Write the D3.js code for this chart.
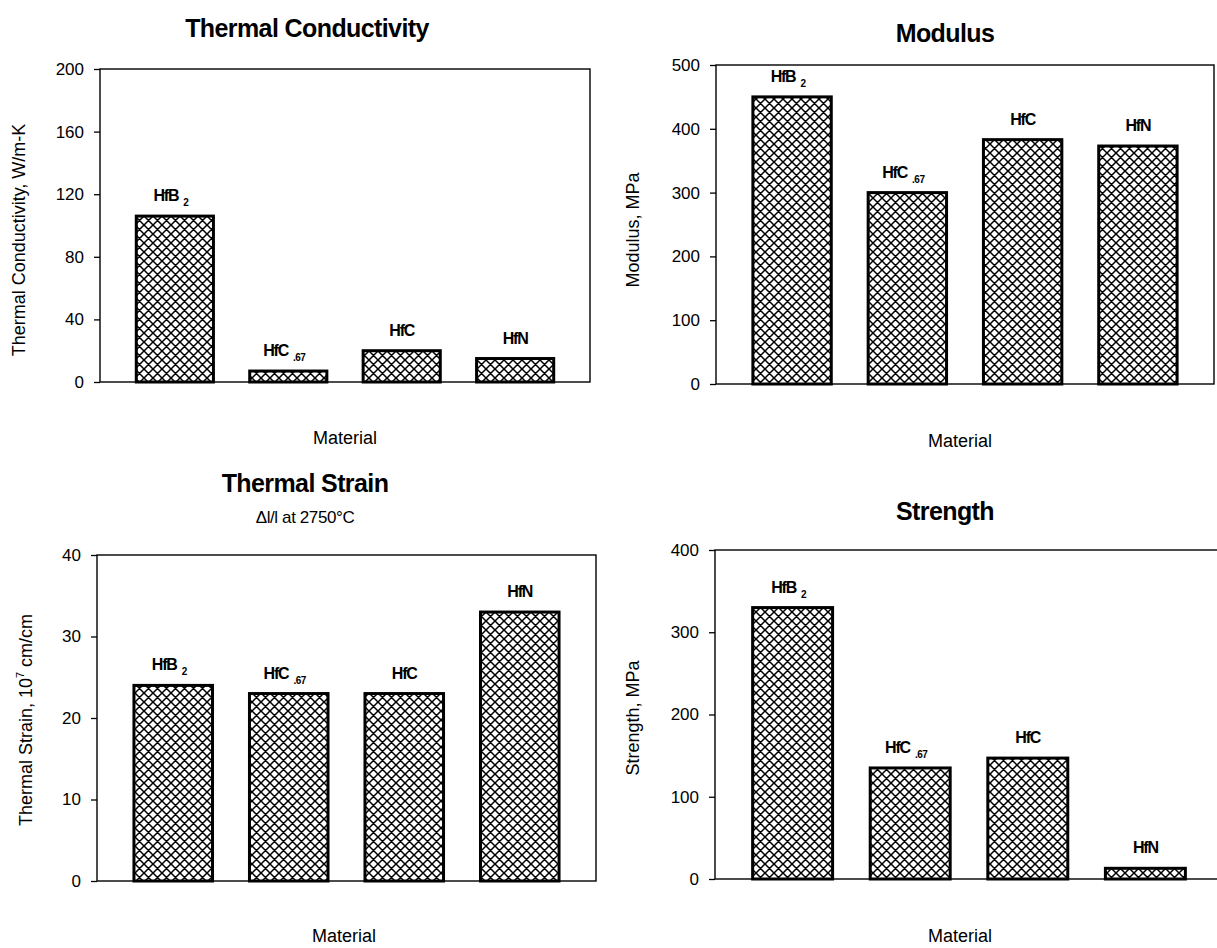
<!DOCTYPE html>
<html>
<head>
<meta charset="utf-8">
<script src="https://cdn.jsdelivr.net/npm/d3@7"></script>
<style>
  body { margin: 0; background: #fff; }
  svg { display: block; font-family: "Liberation Sans", Arial, sans-serif; }
  .tick text { font-family: "Liberation Sans Narrow", "Liberation Sans", sans-serif; font-size: 17px; fill: #000; }
  .tick line { stroke: #000; stroke-width: 1.3; }
</style>
</head>
<body>
<svg width="1217" height="948"></svg>
<script>
// categories and bar labels
var categories = ["HfB2", "HfC.67", "HfC", "HfN"];
var labelBase = ["HfB", "HfC", "HfC", "HfN"];
var labelSub = ["2", ".67", "", ""];

// series values
var conductivity = [106, 7, 20, 15];
var modulus = [450, 300, 383, 373];
var strain = [24, 23, 23, 33];
var strength = [330, 135, 147, 13];

// tick labels
var conductivityTicks = [0, 40, 80, 120, 160, 200];
var modulusTicks = [0, 100, 200, 300, 400, 500];
var strainTicks = [0, 10, 20, 30, 40];
var strengthTicks = [0, 100, 200, 300, 400];

var svg = d3.select("svg");

// crosshatch fill
var hs = 9;
var pat = svg.append("defs").append("pattern")
    .attr("id", "hatch")
    .attr("patternUnits", "userSpaceOnUse")
    .attr("width", hs)
    .attr("height", hs);
pat.append("rect").attr("width", hs).attr("height", hs).attr("fill", "#fff");
pat.append("path")
    .attr("d", "M0,0L" + hs + "," + hs + "M" + hs + ",0L0," + hs +
        "M-1," + (hs - 1) + "L1," + (hs + 1) + "M" + (hs - 1) + ",-1L" + (hs + 1) + ",1" +
        "M-1,1L1,-1M" + (hs - 1) + "," + (hs + 1) + "L" + (hs + 1) + "," + (hs - 1))
    .attr("stroke", "#000")
    .attr("stroke-width", 1.5);

var panels = [
    {
        title: "Thermal Conductivity", yLabel: ["Thermal Conductivity, W/m-K"],
        values: conductivity, ticks: conductivityTicks,
        x0: 100, x1: 590, y0: 69, y1: 382,
        titleX: 307, titleY: 37, xLabelX: 345, xLabelY: 444, yLabelX: 25, yLabelY: 240
    },
    {
        title: "Modulus", yLabel: ["Modulus,  MPa"],
        values: modulus, ticks: modulusTicks,
        x0: 716, x1: 1214, y0: 65, y1: 384,
        titleX: 945, titleY: 42, xLabelX: 960, xLabelY: 447, yLabelX: 639, yLabelY: 230
    },
    {
        title: "Thermal Strain", subtitle: "\u0394l/l at 2750\u00b0C",
        yLabel: ["Thermal Strain, 10", "7", " cm/cm"],
        values: strain, ticks: strainTicks,
        x0: 97, x1: 596, y0: 555, y1: 881,
        titleX: 305, titleY: 492, xLabelX: 344, xLabelY: 942, yLabelX: 32, yLabelY: 720
    },
    {
        title: "Strength", yLabel: ["Strength, MPa"],
        values: strength, ticks: strengthTicks,
        x0: 715, x1: 1223, y0: 550, y1: 879,
        titleX: 945, titleY: 520, xLabelX: 960, xLabelY: 942, yLabelX: 639, yLabelY: 718
    }
];

panels.forEach(function (p) {
    var x = d3.scaleBand().domain(categories).range([p.x0, p.x1]).padding(0.32);
    var y = d3.scaleLinear()
        .domain([0, d3.max(p.ticks)])
        .range([p.y1, p.y0]);

    var g = svg.append("g");

    g.append("text")
        .attr("x", p.titleX).attr("y", p.titleY)
        .attr("text-anchor", "middle")
        .style("font-size", "25px").style("font-weight", "bold")
        .style("letter-spacing", "-0.6px")
        .text(p.title);

    if (p.subtitle) {
        g.append("text")
            .attr("x", p.titleX).attr("y", p.titleY + 31)
            .attr("text-anchor", "middle")
            .style("font-size", "17px")
            .style("letter-spacing", "-0.4px")
            .text(p.subtitle);
    }

    // plot box
    g.append("rect")
        .attr("x", p.x0).attr("y", p.y0)
        .attr("width", p.x1 - p.x0).attr("height", p.y1 - p.y0)
        .attr("fill", "none").attr("stroke", "#000").attr("stroke-width", 1.4);

    var ax = g.append("g")
        .attr("transform", "translate(" + p.x0 + ",0)")
        .call(d3.axisLeft(y).tickValues(p.ticks).tickSize(6).tickPadding(10));
    ax.select(".domain").remove();
    ax.attr("font-family", null).attr("font-size", null);

    g.selectAll(".bar")
        .data(p.values)
        .enter().append("rect")
        .attr("class", "bar")
        .attr("x", function (d, i) { return x(categories[i]); })
        .attr("y", function (d) { return y(d); })
        .attr("width", x.bandwidth())
        .attr("height", function (d) { return y(0) - y(d); })
        .attr("fill", "url(#hatch)")
        .attr("stroke", "#000")
        .attr("stroke-width", 3);

    var lab = g.selectAll(".lab")
        .data(p.values)
        .enter().append("text")
        .attr("class", "lab")
        .attr("x", function (d, i) { return x(categories[i]) + x.bandwidth() / 2 - (labelSub[i] ? 4 : 0); })
        .attr("y", function (d) { return y(d) - 15; })
        .attr("text-anchor", "middle")
        .style("font-size", "16px").style("font-weight", "bold")
        .style("letter-spacing", "-1.2px");
    lab.append("tspan").text(function (d, i) { return labelBase[i]; });
    lab.append("tspan")
        .attr("dx", 5).attr("dy", 5)
        .style("font-size", "10px")
        .style("letter-spacing", "-0.5px")
        .text(function (d, i) { return labelSub[i]; });

    g.append("text")
        .attr("x", p.xLabelX).attr("y", p.xLabelY)
        .attr("text-anchor", "middle")
        .style("font-size", "18px")
        .text("Material");

    var yl = g.append("text")
        .attr("transform", "translate(" + p.yLabelX + "," + p.yLabelY + ")rotate(-90)")
        .attr("text-anchor", "middle")
        .style("font-size", "18px");
    yl.append("tspan").text(p.yLabel[0]);
    if (p.yLabel.length > 1) {
        yl.append("tspan").attr("dy", -8).style("font-size", "11px").text(p.yLabel[1]);
        yl.append("tspan").attr("dy", 8).text(p.yLabel[2]);
    }
});
</script>
</body>
</html>
